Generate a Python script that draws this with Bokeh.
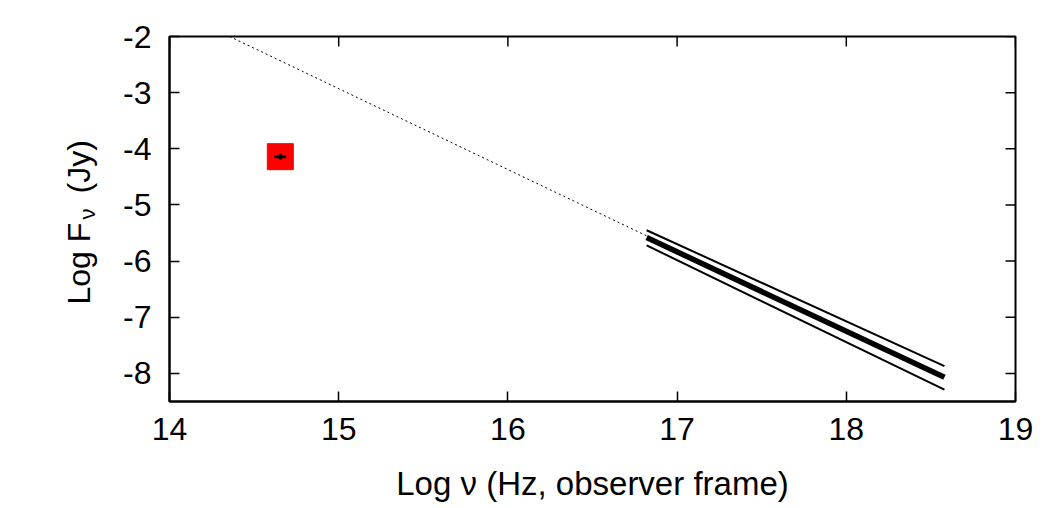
import math
from bokeh.plotting import figure
from bokeh.layouts import row
from bokeh.models import FixedTicker, Range1d
from bokeh.core.properties import value
from bokeh.embed import file_html
from bokeh.resources import INLINE

# --- data ---
opt_x = [14.655]
opt_y = [-4.14]
opt_xerr = [0.035]
opt_yerr = [0.05]

extrap_x = [14.355, 16.82]
extrap_y = [-2.0, -5.55]

xray_x = [16.82, 18.58]
xray_best = [-5.58, -8.07]
xray_upper = [-5.45, -7.87]
xray_lower = [-5.72, -8.29]

x_ticks = [14, 15, 16, 17, 18, 19]
y_ticks = [-2, -3, -4, -5, -6, -7, -8]

FONT = "Liberation Sans"
LW = 110   # width of the strip holding the y-axis title
H = 506
TOP, BOTTOM = 36, 105

p = figure(width=1040 - LW, height=H, output_backend="svg", toolbar_location=None,
           x_range=Range1d(14, 19), y_range=Range1d(-8.5, -2),
           min_border_left=169 - LW, min_border_right=25, min_border_top=TOP,
           min_border_bottom=BOTTOM)
p.xgrid.visible = False
p.ygrid.visible = False
p.outline_line_color = "black"
p.outline_line_width = 2
p.background_fill_color = "white"
p.border_fill_color = "white"

xa = p.xaxis[0]
xa.ticker = FixedTicker(ticks=x_ticks)
xa.major_label_overrides = {t: str(t) for t in x_ticks}
ya = p.yaxis[0]
ya.ticker = FixedTicker(ticks=y_ticks)
ya.major_label_overrides = {t: "-%d" % abs(t) for t in y_ticks}
for ax, st in [(xa, 16), (ya, 18)]:
    ax.major_tick_in = 10
    ax.major_tick_out = 0
    ax.minor_tick_in = 0
    ax.minor_tick_out = 0
    ax.axis_line_width = 2
    ax.axis_line_color = "black"
    ax.major_tick_line_width = 1.5
    ax.major_tick_line_color = "black"
    ax.major_label_text_font = FONT
    ax.major_label_text_font_size = "32px"
    ax.major_label_text_color = "black"
    ax.major_label_standoff = st

xa.axis_label = "Log \u03bd (Hz, observer frame)"
xa.axis_label_text_font = FONT
xa.axis_label_text_font_size = "33px"
xa.axis_label_text_font_style = "normal"
xa.axis_label_text_color = "black"
xa.axis_label_standoff = 22

# mirrored tick marks on top and right (dash markers clipped by the frame)
p.scatter(x_ticks, [-2] * len(x_ticks), marker="dash", size=20, angle=math.pi / 2,
          line_color="black", line_width=1.5)
p.scatter([19] * len(y_ticks), y_ticks, marker="dash", size=20, angle=0,
          line_color="black", line_width=1.5)

# dotted extrapolation
p.line(extrap_x, extrap_y, line_color="black", line_width=1, line_dash="2 3")

# X-ray spectrum lines
p.line(xray_x, xray_upper, line_color="black", line_width=2)
p.line(xray_x, xray_lower, line_color="black", line_width=2)
p.line(xray_x, xray_best, line_color="black", line_width=5.5)

# optical point
p.scatter(opt_x, opt_y, marker="square", size=26, fill_color="red", line_color="red")
p.segment(x0=[opt_x[0] - opt_xerr[0]], y0=opt_y, x1=[opt_x[0] + opt_xerr[0]], y1=opt_y,
          line_color="black", line_width=3)
p.segment(x0=opt_x, y0=[opt_y[0] - opt_yerr[0]], x1=opt_x, y1=[opt_y[0] + opt_yerr[0]],
          line_color="black", line_width=3)

# strip on the left for the y-axis title; its frame is aligned with the main frame,
# so its y range is expressed in page pixels (measured from the bottom)
lab = figure(width=LW, height=H, output_backend="svg", toolbar_location=None,
             x_axis_type=None, y_axis_type=None,
             x_range=Range1d(0, LW), y_range=Range1d(BOTTOM, H - TOP),
             min_border_left=0, min_border_right=0, min_border_top=TOP,
             min_border_bottom=BOTTOM)
lab.grid.visible = False
lab.outline_line_color = None
lab.background_fill_color = "white"
lab.border_fill_color = "white"

for txt, cx, cy, fs in [("Log F", 78, 304, "32px"), ("\u03bd", 87, 219, "22px"),
                        ("(Jy)", 78, 193, "32px")]:
    lab.text(x=[cx], y=[H - cy], text=[txt], angle=math.pi / 2, text_font=value(FONT),
             text_font_size=value(fs), text_align="left", text_baseline="middle",
             text_color="black")

layout = row(lab, p, spacing=0)
open("out.html", "w").write(file_html(layout, INLINE))
